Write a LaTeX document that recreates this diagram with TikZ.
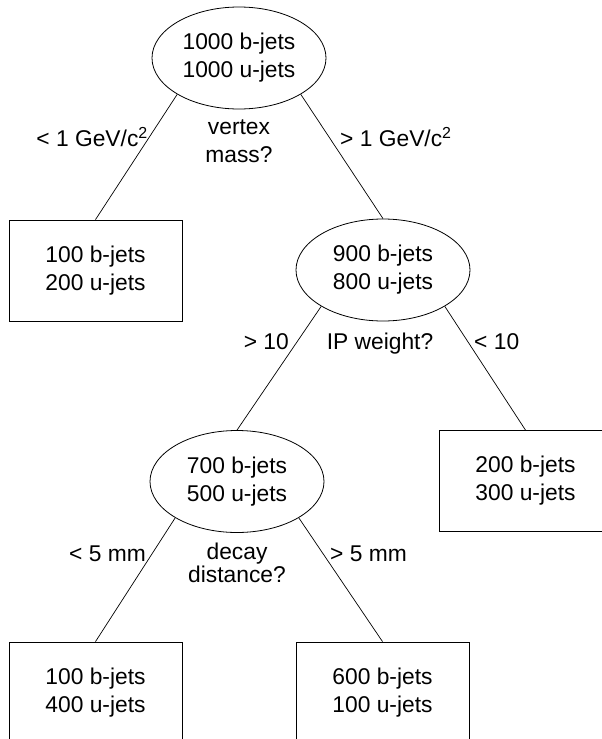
\documentclass[tikz,border=0pt]{standalone}
\usepackage{fontspec}
\setmainfont{Liberation Sans}
\usetikzlibrary{shapes.geometric}
\begin{document}
\begin{tikzpicture}[x=1pt,y=-1pt,
  txt/.style={font=\fontsize{22.8}{28}\selectfont, inner sep=0pt},
  nodeell/.style={txt, draw, ellipse, line width=0.8pt, minimum width=174pt, minimum height=102pt, align=center},
  leafbox/.style={txt, draw, rectangle, line width=0.8pt, minimum width=173pt, minimum height=101pt, align=center},
  lab/.style={txt},
  conn/.style={line width=0.7pt}]
\clip (0,0) rectangle (602,739);
\useasboundingbox (0,0) rectangle (602,739);
% nodes
\node[nodeell] (top) at (239,58) {1000 b-jets\\1000 u-jets};
\node[leafbox] (l1) at (95.5,270.5) {100 b-jets\\200 u-jets};
\node[nodeell] (mid) at (383,270) {900 b-jets\\800 u-jets};
\node[leafbox] (r1) at (525.5,481) {200 b-jets\\300 u-jets};
\node[nodeell] (low) at (237,481.5) {700 b-jets\\500 u-jets};
\node[leafbox] (l2) at (95.5,692.5) {100 b-jets\\400 u-jets};
\node[leafbox] (r2) at (382.5,692.5) {600 b-jets\\100 u-jets};
% connectors
\draw[conn] (top.south west) -- (l1.north);
\draw[conn] (top.south east) -- (mid.north);
\draw[conn] (mid.south west) -- (low.north);
\draw[conn] (mid.south east) -- (r1.north);
\draw[conn] (low.south west) -- (l2.north);
\draw[conn] (low.south east) -- (r2.north);
% labels
\node[lab, anchor=base east] (a1) at (148,146) {< 1 GeV/c\textsuperscript{2}};
\node[lab, anchor=base west] (a2) at (340,146) {> 1 GeV/c\textsuperscript{2}};
\node[lab, align=center, anchor=base] (q1) at (239,162) {vertex\\mass?};
\node[lab, anchor=base east] (b1) at (289,349) {> 10};
\node[lab, anchor=base] (q2) at (380,349) {IP weight?};
\node[lab, anchor=base west] (b2) at (474,349) {< 10};
\node[lab, anchor=base east] (c1) at (146,561) {< 5 mm};
\node[lab, align=center, anchor=base, font=\fontsize{22.8}{21}\selectfont] (q3) at (237,582) {decay\\distance?};
\node[lab, anchor=base west] (c2) at (330,561) {> 5 mm};
\end{tikzpicture}
\end{document}
